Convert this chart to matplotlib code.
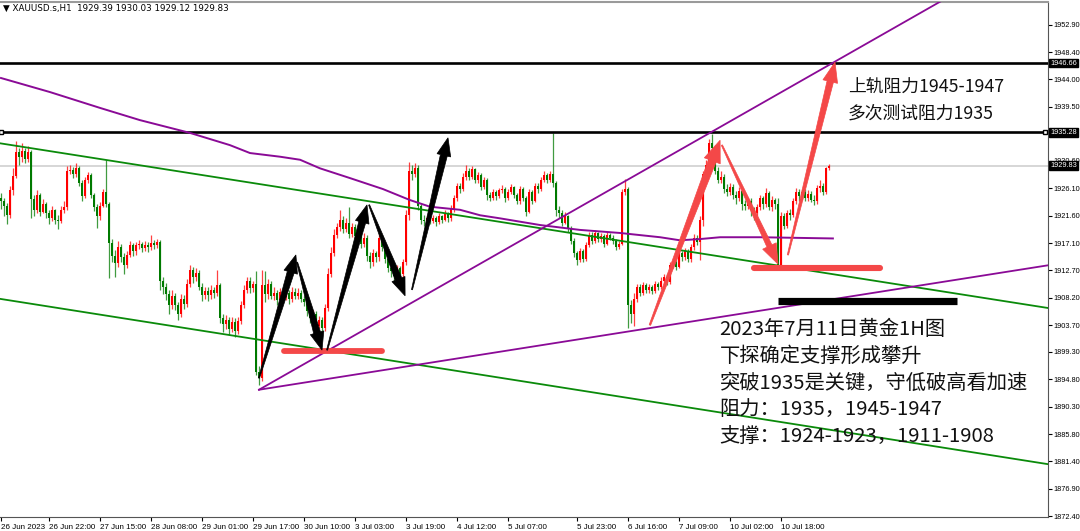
import numpy as np
import matplotlib
matplotlib.use("Agg")
import matplotlib.pyplot as plt
from matplotlib.patches import Polygon
from matplotlib.transforms import IdentityTransform, blended_transform_factory

# ---------------- data ----------------
closes = [
    1924.0, 1923.2, 1921.8, 1925.8, 1928.2, 1932.0, 1931.2, 1932.2, 1931.0, 1932.0,
    1924.4, 1922.5, 1925.0, 1922.3, 1923.5, 1922.0, 1921.3, 1922.5, 1921.0, 1920.8,
    1922.6, 1923.0, 1929.0, 1929.2, 1928.5, 1929.5, 1927.0, 1924.8, 1927.5, 1928.3,
    1925.0, 1923.0, 1921.5, 1923.2, 1925.5, 1923.5, 1917.2, 1915.0, 1913.8, 1916.5,
    1914.8, 1913.5, 1915.2, 1916.8, 1915.8, 1916.8, 1917.0, 1916.3, 1916.9, 1916.5,
    1917.2, 1916.8, 1917.3, 1911.0, 1910.0, 1908.8, 1907.0, 1908.5, 1907.0, 1905.5,
    1908.0, 1907.2, 1910.5, 1912.8, 1911.5, 1912.3, 1910.0, 1908.6, 1909.3, 1908.6,
    1909.5, 1909.0, 1910.2, 1904.8, 1903.8, 1904.5, 1903.0, 1904.2, 1902.8, 1904.3,
    1907.0, 1909.5, 1911.0, 1909.8, 1910.4, 1896.0, 1895.0, 1910.2, 1908.8, 1910.5,
    1908.5, 1909.0, 1907.8, 1909.2, 1908.3, 1909.0, 1908.0, 1909.2, 1908.5, 1909.0,
    1908.0, 1907.5, 1906.0, 1904.8, 1905.5, 1903.6, 1904.5, 1903.2, 1906.5, 1912.0,
    1915.5, 1918.5, 1919.8, 1921.0, 1919.5, 1920.5, 1918.6, 1919.8, 1918.3, 1919.2,
    1917.0, 1918.0, 1915.0, 1914.0, 1915.5, 1914.8, 1918.0, 1916.5, 1914.5, 1913.0,
    1912.5, 1911.8, 1913.0, 1912.0, 1914.0, 1921.8, 1929.0, 1928.5, 1929.5, 1923.2,
    1921.0, 1920.8, 1921.3, 1920.8, 1921.2, 1920.6, 1921.5, 1921.0, 1922.0, 1921.2,
    1922.8, 1924.5, 1926.5, 1926.0, 1928.0, 1929.0, 1928.0, 1929.3, 1927.5, 1928.3,
    1926.3, 1927.5, 1925.0, 1924.6, 1925.5, 1924.8, 1925.8, 1926.0, 1924.5, 1925.5,
    1926.3, 1925.0, 1924.0, 1926.0, 1924.5, 1922.2, 1925.5, 1924.0, 1926.5, 1926.0,
    1927.5, 1928.3, 1927.5, 1928.5, 1927.0, 1922.5, 1922.0, 1920.5, 1921.5, 1919.5,
    1917.5, 1915.5, 1914.3, 1915.8, 1914.5, 1916.8, 1918.5, 1917.5, 1918.8, 1917.8,
    1918.3, 1917.0, 1918.5, 1918.0, 1917.5, 1916.5, 1917.0, 1925.5, 1926.0, 1907.0,
    1905.5, 1908.0, 1910.0, 1909.0, 1910.3, 1909.5, 1910.0, 1909.3, 1910.5, 1910.0,
    1911.0, 1911.5, 1910.8, 1913.5, 1914.0, 1913.2, 1915.5, 1914.8, 1915.8, 1914.5,
    1916.5, 1918.0, 1917.3, 1921.0, 1928.5, 1930.0, 1933.5, 1932.8, 1929.0, 1927.5,
    1928.0, 1926.0, 1925.5, 1926.3, 1925.0, 1924.5, 1925.6, 1923.5, 1923.2, 1924.0,
    1922.5, 1922.0, 1923.0, 1924.5, 1923.5, 1925.3, 1923.0, 1924.2, 1923.5, 1913.5,
    1921.5, 1920.0, 1922.0, 1921.8, 1924.0, 1925.5, 1924.8, 1925.5, 1924.5, 1925.2,
    1924.2, 1924.0, 1926.2, 1926.5, 1925.5, 1929.39, 1929.83,
]
first_open = 1924.6
highs = [
    1925.3, 1924.6, 1923.7, 1926.5, 1929.5, 1933.8, 1932.8, 1933.6, 1932.8, 1933.0,
    1932.4, 1925.0, 1925.8, 1925.4, 1924.4, 1923.9, 1922.6, 1923.2, 1922.8, 1921.8,
    1923.2, 1924.0, 1929.8, 1930.0, 1929.6, 1930.2, 1929.8, 1927.5, 1928.0, 1928.8,
    1928.6, 1925.4, 1923.5, 1923.8, 1926.0, 1930.8, 1923.8, 1917.8, 1916.0, 1917.5,
    1917.0, 1915.5, 1915.8, 1917.5, 1917.2, 1917.4, 1917.6, 1917.4, 1917.5, 1917.4,
    1918.4, 1917.6, 1917.8, 1917.6, 1911.5, 1910.6, 1909.4, 1909.5, 1909.0, 1907.5,
    1908.8, 1908.7, 1911.2, 1913.5, 1913.2, 1913.0, 1912.8, 1910.6, 1910.0, 1910.0,
    1910.2, 1910.0, 1912.7, 1910.6, 1905.5, 1905.4, 1905.0, 1905.0, 1904.8, 1905.0,
    1907.6, 1910.3, 1911.5, 1911.6, 1911.0, 1912.6, 1897.0, 1912.8, 1912.5, 1911.2,
    1911.0, 1910.0, 1909.5, 1909.8, 1909.6, 1909.8, 1909.5, 1910.0, 1909.8, 1909.8,
    1909.5, 1908.5, 1908.0, 1906.5, 1906.2, 1906.0, 1905.2, 1905.0, 1907.2, 1913.0,
    1916.5, 1919.5, 1920.5, 1922.5, 1921.5, 1921.3, 1923.0, 1920.5, 1920.2, 1920.0,
    1919.6, 1918.8, 1918.5, 1915.6, 1916.2, 1915.8, 1918.6, 1918.4, 1916.8, 1915.2,
    1913.6, 1913.0, 1913.6, 1913.4, 1914.6, 1922.5, 1930.5, 1930.0, 1930.3, 1930.0,
    1923.5, 1921.8, 1921.8, 1921.6, 1921.8, 1921.6, 1922.0, 1921.8, 1922.5, 1922.3,
    1923.4, 1925.0, 1927.0, 1927.0, 1928.6, 1930.0, 1929.4, 1929.8, 1929.5, 1928.8,
    1928.6, 1928.0, 1927.8, 1925.5, 1926.0, 1925.8, 1926.2, 1926.6, 1926.3, 1926.0,
    1926.8, 1926.5, 1925.3, 1926.5, 1926.3, 1924.8, 1926.0, 1925.8, 1927.0, 1927.0,
    1928.0, 1929.0, 1928.6, 1929.0, 1935.2, 1927.3, 1923.2, 1922.5, 1922.2, 1921.8,
    1920.0, 1918.0, 1915.8, 1916.3, 1916.2, 1917.4, 1919.0, 1919.0, 1919.3, 1919.0,
    1918.8, 1918.6, 1919.0, 1918.8, 1918.4, 1917.8, 1917.5, 1926.0, 1927.6, 1926.3,
    1907.8, 1909.0, 1910.5, 1910.4, 1910.8, 1910.6, 1910.5, 1910.3, 1911.0, 1910.8,
    1911.6, 1912.0, 1912.0, 1914.0, 1914.6, 1914.5, 1916.0, 1915.8, 1916.4, 1916.2,
    1917.0, 1918.6, 1918.4, 1921.6, 1929.0, 1930.8, 1934.2, 1935.0, 1933.2, 1929.6,
    1929.0, 1928.5, 1926.8, 1927.0, 1926.8, 1925.6, 1926.3, 1926.0, 1924.2, 1924.6,
    1924.5, 1923.0, 1923.6, 1925.0, 1924.8, 1926.2, 1925.6, 1924.8, 1924.6, 1924.5,
    1922.3, 1922.0, 1922.6, 1922.8, 1924.6, 1926.2, 1926.0, 1926.0, 1926.0, 1925.8,
    1925.6, 1925.0, 1926.6, 1927.5, 1927.0, 1929.6, 1930.03,
]
lows = [
    1922.8, 1921.5, 1920.3, 1921.2, 1925.0, 1927.8, 1930.0, 1930.5, 1930.2, 1930.5,
    1921.3, 1921.5, 1922.0, 1921.6, 1922.0, 1921.2, 1920.2, 1920.8, 1920.2, 1919.4,
    1920.5, 1922.0, 1922.5, 1928.4, 1927.8, 1928.0, 1926.5, 1924.0, 1924.5, 1927.0,
    1924.5, 1922.4, 1919.6, 1921.0, 1923.0, 1923.0, 1911.4, 1914.0, 1911.5, 1913.2,
    1914.0, 1912.0, 1913.0, 1914.8, 1915.0, 1915.2, 1916.2, 1915.6, 1915.8, 1915.6,
    1916.0, 1916.2, 1916.3, 1909.4, 1908.8, 1907.8, 1905.5, 1906.4, 1906.2, 1904.6,
    1905.0, 1906.3, 1906.6, 1910.0, 1910.6, 1911.0, 1909.5, 1907.6, 1908.0, 1907.6,
    1908.0, 1908.2, 1908.5, 1904.0, 1902.5, 1903.0, 1902.0, 1902.6, 1901.7, 1902.2,
    1903.8, 1906.5, 1909.0, 1909.0, 1909.2, 1895.5, 1893.8, 1894.6, 1907.5, 1908.0,
    1908.0, 1907.8, 1907.0, 1907.2, 1907.6, 1907.8, 1907.2, 1907.5, 1908.0, 1907.9,
    1907.5, 1906.8, 1905.2, 1904.0, 1904.0, 1902.8, 1903.2, 1902.5, 1902.8, 1906.0,
    1911.5, 1915.0, 1918.0, 1919.2, 1918.8, 1919.0, 1918.0, 1918.2, 1917.6, 1918.0,
    1916.4, 1916.5, 1914.2, 1913.0, 1913.4, 1914.0, 1914.2, 1915.8, 1913.8, 1912.4,
    1911.6, 1910.8, 1911.5, 1911.4, 1911.6, 1913.5, 1921.0, 1927.5, 1928.0, 1922.5,
    1920.3, 1920.0, 1920.4, 1920.2, 1920.5, 1920.0, 1920.3, 1920.4, 1920.8, 1920.6,
    1920.8, 1922.3, 1924.0, 1925.4, 1925.6, 1927.5, 1927.5, 1927.6, 1927.0, 1927.0,
    1925.8, 1926.0, 1924.2, 1924.0, 1924.2, 1924.2, 1924.5, 1925.4, 1923.8, 1924.2,
    1925.2, 1924.5, 1923.5, 1923.6, 1924.0, 1921.5, 1922.0, 1923.5, 1923.8, 1925.4,
    1925.6, 1927.2, 1927.0, 1927.2, 1926.4, 1921.5, 1921.3, 1920.0, 1920.2, 1919.0,
    1917.0, 1914.8, 1913.5, 1914.0, 1914.0, 1914.2, 1916.5, 1917.0, 1917.2, 1917.4,
    1917.4, 1916.5, 1916.8, 1917.6, 1917.0, 1916.0, 1916.2, 1916.8, 1925.0, 1903.3,
    1904.0, 1903.5, 1907.5, 1908.4, 1908.6, 1909.0, 1909.0, 1908.8, 1909.0, 1909.5,
    1909.6, 1910.5, 1910.3, 1910.5, 1913.0, 1912.8, 1913.0, 1914.2, 1914.3, 1914.0,
    1914.0, 1916.0, 1916.8, 1914.4, 1920.0, 1928.0, 1929.5, 1932.0, 1928.4, 1927.0,
    1927.0, 1925.4, 1924.8, 1925.0, 1924.4, 1923.6, 1924.0, 1922.6, 1922.5, 1922.8,
    1921.6, 1921.0, 1921.6, 1922.6, 1922.8, 1923.0, 1922.5, 1922.4, 1922.8, 1913.0,
    1913.0, 1919.4, 1919.6, 1921.0, 1921.4, 1923.5, 1924.0, 1924.2, 1924.0, 1924.0,
    1923.8, 1923.4, 1923.6, 1925.5, 1925.0, 1925.2, 1929.12,
]

# moving average (purple curve)
ma_idx = [0, 16.3, 33, 46.3, 63, 76.3, 83, 93, 99.7, 106.3, 116.3, 127.3, 136.3, 143,
          153, 159.7, 166.3, 179.7, 193, 206.3, 219.7, 226.3, 233, 239.7, 253, 277.3]
ma_val = [1944.2, 1941.9, 1939.3, 1937.3, 1935.2, 1933.2, 1931.9, 1931.3, 1930.8, 1929.4,
          1927.8, 1926.0, 1924.2, 1923.1, 1922.6, 1921.7, 1921.2, 1920.1, 1919.3, 1918.8,
          1918.1, 1917.6, 1917.8, 1918.1, 1918.1, 1917.9]

# 1935.10 sits under the 1935.28 box in the reference, so it is not drawn
y_ticks = [1952.90, 1948.40, 1944.00, 1939.50, 1930.60, 1926.10, 1921.60, 1917.10,
           1912.70, 1908.20, 1903.70, 1899.30, 1894.80, 1890.30, 1885.80, 1881.40,
           1876.90, 1872.40]
x_tick_idx = [0, 16, 33, 50, 67, 84, 101, 118, 135, 152, 169, 192, 209, 226, 243, 260]
x_tick_labels = ["26 Jun 2023", "26 Jun 22:00", "27 Jun 15:00", "28 Jun 08:00",
                 "29 Jun 01:00", "29 Jun 17:00", "30 Jun 10:00", "3 Jul 03:00",
                 "3 Jul 19:00", "4 Jul 12:00", "5 Jul 07:00", "5 Jul 23:00",
                 "6 Jul 16:00", "7 Jul 09:00", "10 Jul 02:00", "10 Jul 18:00"]

resistance_hi = 1946.66
resistance_lo = 1935.28
last_price = 1929.83

# drawn objects (bar index, price)
green_upper = [(-0.33, 1933.5), (349.0, 1906.5)]
green_lower = [(-0.33, 1908.0), (349.0, 1880.9)]
purple_steep = [(86.0, 1893.1), (313.0, 1956.7)]
purple_flat = [(86.0, 1893.1), (349.0, 1913.5)]
black_arrows = [((86.0, 1895.0), (98.3, 1915.2)),
                ((98.7, 1914.0), (107.0, 1899.6)),
                ((108.7, 1899.6), (122.0, 1923.4)),
                ((122.7, 1923.4), (134.7, 1908.5)),
                ((137.0, 1909.5), (149.0, 1934.4))]
red_arrows = [((216.3, 1903.7), (239.7, 1934.0)),
              ((240.3, 1933.2), (259.0, 1913.7)),
              ((262.3, 1915.2), (278.0, 1946.8))]
red_support_1 = [(94.5, 1899.4), (127.0, 1899.4)]
red_support_2 = [(251.0, 1913.1), (293.0, 1913.1)]
black_support = [(259.0, 1907.7), (318.7, 1907.7)]

header = "XAUUSD.s,H1  1929.39 1930.03 1929.12 1929.83"
note_top = ["上轨阻力1945-1947", "多次测试阻力1935"]
note_block = ["2023年7月11日黄金1H图", "下探确定支撑形成攀升", "突破1935是关键，守低破高看加速",
              "阻力：1935，1945-1947", "支撑：1924-1923，1911-1908"]

# ---------------- figure ----------------
plt.rcParams['font.family'] = ['Noto Sans CJK SC', 'DejaVu Sans']
SMALL = 'Liberation Sans'
W, H = 1080, 531
fig = plt.figure(figsize=(W / 100, H / 100), dpi=100)
ax = fig.add_axes([0, (531 - 517) / H, 1048 / W, (517 - 2) / H])
ax.set_xlim(-0.33, 349.0)
ax.set_ylim(1872.24, 1956.66)

UP = '#ff0000'
DN = '#007a00'
n = len(closes)
opens = [first_open] + closes[:-1]
for i in range(n):
    o, c = opens[i], closes[i]
    hi = max(highs[i], o, c)
    lo = min(lows[i], o, c)
    col = UP if c >= o else DN
    ax.vlines(i, lo, hi, color=col, lw=0.9, alpha=0.75, zorder=3)
    ax.bar(i, max(abs(c - o), 0.12), bottom=min(o, c), width=0.68, color=col,
           linewidth=0, zorder=3)

# horizontal levels
ax.axhline(last_price, color='#d0d0d0', lw=1.2, zorder=1)
ax.axhline(resistance_hi, color='black', lw=1.9, zorder=4)
ax.axhline(resistance_lo, color='black', lw=1.9, zorder=4)
for xx in (0.0, 348.0):
    ax.plot([xx], [resistance_lo], marker='s', ms=3.5, mfc='white', mec='black',
            mew=1, zorder=5, clip_on=False)

# trend lines
for seg in (green_upper, green_lower):
    ax.axline(seg[0], seg[1], color='#0a8a0a', lw=1.3, zorder=4)
for seg in (purple_steep, purple_flat):
    ax.plot([p[0] for p in seg], [p[1] for p in seg], color='#8a0a96', lw=1.3, zorder=4)
ax.plot(ma_idx, ma_val, color='#8a0a96', lw=1.4, zorder=4)

# thick horizontal marks
for seg, col, lw, cap in ((red_support_1, '#f44848', 4.2, 'round'),
                          (red_support_2, '#f44848', 4.4, 'round'),
                          (black_support, 'black', 5.2, 'butt')):
    ax.plot([p[0] for p in seg], [p[1] for p in seg], color=col, lw=lw,
            solid_capstyle=cap, zorder=6)


def tapered_arrow(tail, tip, w_tail, w_shaft, head_w, head_len, color):
    T = ax.transData
    p0 = np.array(T.transform(tail))
    p1 = np.array(T.transform(tip))
    d = p1 - p0
    L = np.hypot(*d)
    u = d / L
    nv = np.array([-u[1], u[0]])
    base = p1 - u * head_len
    pts = [p0 + nv * w_tail / 2, base + nv * w_shaft / 2, base + nv * head_w / 2, p1,
           base - nv * head_w / 2, base - nv * w_shaft / 2, p0 - nv * w_tail / 2]
    poly = Polygon(pts, closed=True, transform=IdentityTransform(), facecolor=color,
                   edgecolor=color, lw=0.5, zorder=7)
    ax.add_patch(poly)


for tail, tip in black_arrows:
    tapered_arrow(tail, tip, 1.0, 7, 14, 18, 'black')
tapered_arrow(*red_arrows[0], 1.5, 8, 17, 22, '#f44848')
tapered_arrow(*red_arrows[1], 1.2, 5.5, 15, 20, '#f44848')
tapered_arrow(*red_arrows[2], 1.2, 6.5, 15, 20, '#f44848')

# texts
ax.text(282.3, 1942.6, note_top[0], fontsize=12.8, va='center', ha='left', color='#111111',
        zorder=8)
ax.text(282.3, 1938.3, note_top[1], fontsize=12.8, va='center', ha='left', color='#111111',
        zorder=8)
for line, yy in zip(note_block, [1902.9, 1898.6, 1894.2, 1889.8, 1885.4]):
    ax.text(239.5, yy, line, fontsize=14.6, va='center', ha='left', color='#111111',
            zorder=8)

fig.text(0.003, 0.984, "▼ " + header, fontsize=6.3, va='center', ha='left',
         family='DejaVu Sans', color='black')

# axes styling
ax.spines['left'].set_visible(False)
ax.spines['top'].set_color('#9a9a9a')
ax.spines['top'].set_linewidth(1.5)
ax.spines['right'].set_color('#555555')
ax.spines['bottom'].set_color('#555555')
ax.yaxis.tick_right()
ax.set_yticks(y_ticks)
ax.set_yticklabels([f"{v:.2f}" for v in y_ticks], family=SMALL)
ax.tick_params(axis='y', labelsize=5.3, length=3, pad=1, colors='black')
ax.set_xticks(x_tick_idx)
ax.set_xticklabels(x_tick_labels, ha='left', family=SMALL)
ax.tick_params(axis='x', labelsize=5.8, length=3, pad=2, direction='out')

# price boxes on the right axis
tr = blended_transform_factory(ax.transAxes, ax.transData)
for val in (resistance_hi, resistance_lo, last_price):
    ax.text(1.002, val, f"{val:.2f}", transform=tr, fontsize=5.3, family=SMALL,
            color='white', va='center', ha='left', zorder=10, clip_on=False,
            bbox=dict(boxstyle='square,pad=0.12', fc='black', ec='black'))

fig.savefig("out.png", dpi=100)
